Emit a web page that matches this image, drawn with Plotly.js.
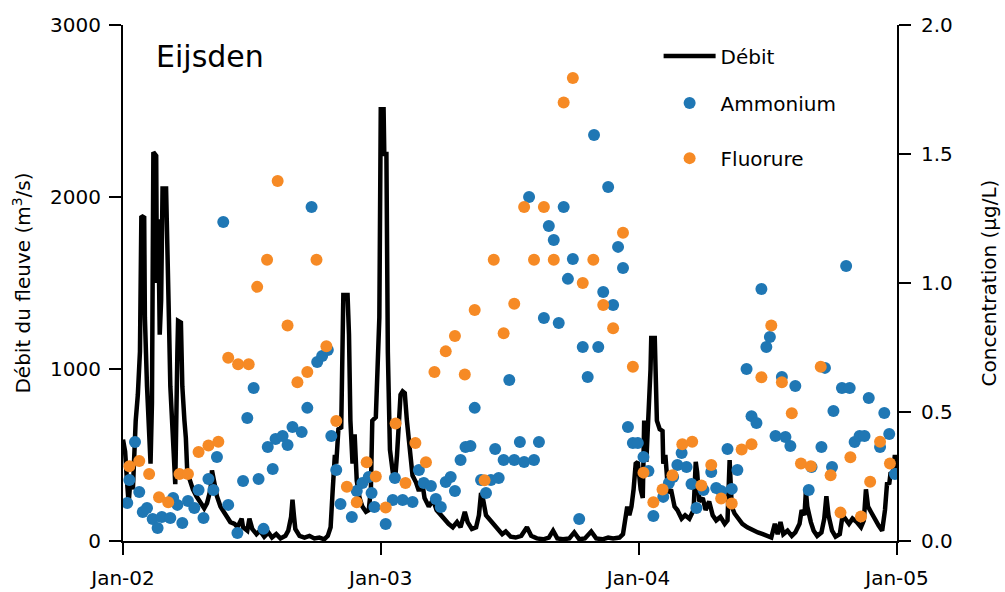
<!DOCTYPE html>
<html>
<head>
<meta charset="utf-8">
<script src="https://cdn.plot.ly/plotly-3.0.1.min.js"></script>
<style>html,body{margin:0;padding:0;background:#fff;}#chart{width:1005px;height:592px;}</style>
</head>
<body>
<div id="chart"></div>
<script>
// ---- Data ----
const xTickDates = ['2002-01-01','2003-01-01','2004-01-01','2005-01-01'];
const xTickLabels = ['Jan-02','Jan-03','Jan-04','Jan-05'];

const dischargeDates = [
'2002-01-01','2002-01-04','2002-01-07','2002-01-09','2002-01-12','2002-01-15','2002-01-19','2002-01-22','2002-01-25','2002-01-27',
'2002-01-31','2002-02-01','2002-02-04','2002-02-07','2002-02-09','2002-02-11','2002-02-13','2002-02-17','2002-02-18','2002-02-20',
'2002-02-22','2002-02-24','2002-02-26','2002-03-03','2002-03-05','2002-03-07','2002-03-09','2002-03-12','2002-03-14','2002-03-16',
'2002-03-19','2002-03-20','2002-03-24','2002-03-26','2002-03-29','2002-03-31','2002-04-02','2002-04-06','2002-04-10','2002-04-15',
'2002-04-20','2002-04-26','2002-04-30','2002-05-05','2002-05-07','2002-05-10','2002-05-14','2002-05-19','2002-05-24','2002-05-29',
'2002-06-02','2002-06-08','2002-06-12','2002-06-18','2002-06-20','2002-06-26','2002-06-29','2002-07-03','2002-07-09','2002-07-14',
'2002-07-20','2002-07-26','2002-07-31','2002-08-06','2002-08-12','2002-08-19','2002-08-23','2002-08-27','2002-08-29','2002-08-31',
'2002-09-02','2002-09-08','2002-09-15','2002-09-22','2002-09-29','2002-10-06','2002-10-13','2002-10-18','2002-10-22','2002-10-25',
'2002-10-28','2002-10-30','2002-11-02','2002-11-06','2002-11-09','2002-11-15','2002-11-17','2002-11-19','2002-11-22','2002-11-25',
'2002-11-28','2002-12-02','2002-12-06','2002-12-11','2002-12-15','2002-12-18','2002-12-20','2002-12-25','2002-12-28','2002-12-30',
'2003-01-01','2003-01-05','2003-01-06','2003-01-09','2003-01-11','2003-01-14','2003-01-18','2003-01-21','2003-01-24','2003-01-26',
'2003-01-29','2003-02-01','2003-02-04','2003-02-07','2003-02-10','2003-02-12','2003-02-15','2003-02-20','2003-02-24','2003-02-28',
'2003-03-04','2003-03-10','2003-03-16','2003-03-21','2003-03-27','2003-04-02','2003-04-07','2003-04-13','2003-04-19','2003-04-24',
'2003-04-30','2003-05-04','2003-05-10','2003-05-16','2003-05-20','2003-05-23','2003-05-26','2003-05-30','2003-06-05','2003-06-10',
'2003-06-16','2003-06-22','2003-06-27','2003-07-04','2003-07-11','2003-07-19','2003-07-27','2003-08-02','2003-08-10','2003-08-19',
'2003-08-27','2003-09-02','2003-09-08','2003-09-16','2003-09-25','2003-10-02','2003-10-09','2003-10-17','2003-10-26','2003-11-02',
'2003-11-11','2003-11-19','2003-11-26','2003-12-05','2003-12-10','2003-12-13','2003-12-16','2003-12-19','2003-12-22','2003-12-25',
'2003-12-28','2003-12-31','2004-01-04','2004-01-07','2004-01-09','2004-01-12','2004-01-15','2004-01-18','2004-01-19','2004-01-24',
'2004-01-27','2004-01-31','2004-02-04','2004-02-05','2004-02-08','2004-02-12','2004-02-16','2004-02-21','2004-02-25','2004-03-02',
'2004-03-07','2004-03-13','2004-03-19','2004-03-22','2004-03-24','2004-03-27','2004-04-01','2004-04-05','2004-04-10','2004-04-15',
'2004-04-20','2004-04-26','2004-05-02','2004-05-06','2004-05-09','2004-05-12','2004-05-16','2004-05-22','2004-05-27','2004-06-03',
'2004-06-11','2004-06-18','2004-06-25','2004-07-02','2004-07-07','2004-07-12','2004-07-16','2004-07-20','2004-07-24','2004-07-30',
'2004-08-05','2004-08-10','2004-08-16','2004-08-19','2004-08-23','2004-08-25','2004-08-27','2004-09-01','2004-09-05','2004-09-10',
'2004-09-16','2004-09-20','2004-09-23','2004-09-26','2004-10-01','2004-10-06','2004-10-12','2004-10-16','2004-10-20','2004-10-25',
'2004-10-30','2004-11-05','2004-11-11','2004-11-15','2004-11-18','2004-11-21','2004-11-25','2004-12-01','2004-12-06','2004-12-11',
'2004-12-15','2004-12-18','2004-12-21','2004-12-23','2004-12-26','2004-12-29','2004-12-31'
];
const dischargeValues = [
590,520,330,220,380,300,700,850,1100,1890,
1880,1300,900,600,450,800,2260,2240,1500,1870,
1200,1400,2050,2050,1750,1300,900,600,400,330,
1100,1280,1270,900,700,600,400,340,300,260,
230,190,220,300,410,330,260,200,170,140,
110,100,80,130,80,60,130,70,40,60,
25,50,20,40,15,30,60,140,240,150,
70,30,20,30,15,20,10,30,80,300,
500,450,650,660,1430,1430,1200,700,450,620,
350,250,200,170,180,300,700,720,1090,1300,
2510,2510,2250,2250,1100,530,400,340,500,700,
850,870,860,700,560,450,380,340,290,360,
250,200,240,180,150,120,100,80,110,80,
170,110,70,80,150,280,240,150,120,90,
60,40,55,25,20,30,80,30,15,10,
20,60,15,10,15,50,10,15,55,15,
10,20,15,20,40,130,200,150,200,300,
450,460,300,250,700,460,700,1000,1180,1180,
700,650,640,450,500,280,300,200,180,130,
150,130,180,460,400,230,250,180,230,150,
120,140,100,120,470,200,160,130,100,80,
60,50,40,25,20,100,40,110,40,60,
30,50,100,180,150,290,200,110,60,30,
50,130,260,150,60,25,40,150,130,100,
130,110,80,120,300,200,170,120,90,60,
180,340,330,400,380,500,420
];

const ammoniumDates = [
'2002-01-07','2002-01-10','2002-01-18','2002-01-24','2002-01-29','2002-02-04','2002-02-12','2002-02-19','2002-02-25','2002-03-09',
'2002-03-13','2002-03-19','2002-03-26','2002-04-03','2002-04-12','2002-04-18','2002-04-25','2002-05-02','2002-05-09','2002-05-14',
'2002-05-23','2002-05-30','2002-06-12','2002-06-20','2002-06-26','2002-07-05','2002-07-12','2002-07-19','2002-07-25','2002-08-01',
'2002-08-05','2002-08-15','2002-08-22','2002-08-29','2002-09-11','2002-09-19','2002-09-25','2002-10-03','2002-10-10','2002-10-18',
'2002-10-23','2002-10-30','2002-11-05','2002-11-21','2002-11-28','2002-12-06','2002-12-15','2002-12-19','2002-12-23',
'2003-01-08','2003-01-18','2003-01-21','2003-02-01','2003-02-15','2003-02-24','2003-03-03','2003-03-13','2003-03-20','2003-03-27',
'2003-04-03','2003-04-10','2003-04-16','2003-04-24','2003-05-01','2003-05-08','2003-05-14','2003-05-23','2003-05-30','2003-06-06',
'2003-06-12','2003-06-17','2003-06-24','2003-07-02','2003-07-09','2003-07-17','2003-07-23','2003-07-30','2003-08-06','2003-08-13',
'2003-08-20','2003-08-27','2003-09-03','2003-09-10','2003-09-17','2003-09-23','2003-09-30','2003-10-09','2003-10-14','2003-10-21',
'2003-10-30','2003-11-05','2003-11-12','2003-11-19','2003-11-26','2003-12-03','2003-12-10','2003-12-17','2003-12-24','2003-12-31',
'2004-01-08','2004-01-15','2004-01-22','2004-02-05','2004-02-13','2004-02-19','2004-02-25','2004-03-02','2004-03-09','2004-03-16',
'2004-03-23','2004-04-02','2004-04-13','2004-04-20','2004-04-27','2004-05-06','2004-05-12','2004-05-20','2004-06-02','2004-06-09',
'2004-06-16','2004-06-23','2004-06-30','2004-07-05','2004-07-13','2004-07-22','2004-07-27','2004-08-03','2004-08-10','2004-08-29',
'2004-09-02','2004-09-16','2004-09-21','2004-10-01','2004-10-03','2004-10-15','2004-10-21','2004-10-26','2004-11-02','2004-11-09',
'2004-11-16','2004-11-22','2004-12-08','2004-12-14','2004-12-21','2004-12-29'
];
const ammoniumValues = [
0.147,0.236,0.384,0.190,0.112,0.128,0.085,0.050,0.093,0.089,
0.167,0.140,0.070,0.155,0.128,0.198,0.089,0.240,0.198,0.326,
1.236,0.140,0.031,0.233,0.477,0.593,0.240,0.047,0.364,0.279,
0.395,0.407,0.372,0.442,0.422,0.516,1.295,0.694,0.717,0.740,
0.407,0.275,0.143,0.093,0.194,0.225,0.248,0.186,0.132,
0.066,0.159,0.244,0.159,0.151,0.275,0.225,0.213,0.163,0.132,
0.229,0.248,0.194,0.314,0.364,0.368,0.516,0.236,0.186,0.236,
0.357,0.244,0.314,0.624,0.314,0.384,0.306,1.333,0.314,0.384,
0.864,1.221,1.167,0.845,1.295,1.016,1.093,0.085,0.752,0.636,
1.574,0.752,0.965,1.372,0.915,1.140,1.058,0.442,0.380,0.380,
0.326,0.271,0.097,0.171,0.225,0.248,0.295,0.341,0.287,0.221,
0.128,0.198,0.267,0.205,0.194,0.357,0.202,0.275,0.667,0.484,
0.457,0.977,0.752,0.791,0.407,0.636,0.403,0.368,0.601,0.198,
0.287,0.364,0.671,0.287,0.504,0.593,1.066,0.593,0.384,0.407,
0.407,0.554,0.364,0.496,0.415,0.260
];

const fluorureDates = [
'2002-01-10','2002-01-24','2002-02-07','2002-02-21','2002-03-06','2002-03-22','2002-04-03','2002-04-18','2002-05-02','2002-05-16',
'2002-05-30','2002-06-13','2002-06-28','2002-07-10','2002-07-24','2002-08-08','2002-08-22','2002-09-05','2002-09-19','2002-10-02',
'2002-10-16','2002-10-30','2002-11-14','2002-11-28','2002-12-12','2002-12-25',
'2003-01-08','2003-01-22','2003-02-05','2003-02-19','2003-03-06','2003-03-18','2003-04-03','2003-04-16','2003-04-30','2003-05-14',
'2003-05-28','2003-06-10','2003-06-24','2003-07-09','2003-07-23','2003-08-06','2003-08-20','2003-09-03','2003-09-17','2003-09-30',
'2003-10-14','2003-10-29','2003-11-12','2003-11-26','2003-12-10','2003-12-24',
'2004-01-08','2004-01-22','2004-02-04','2004-02-18','2004-03-03','2004-03-17','2004-03-30','2004-04-13','2004-04-27','2004-05-12',
'2004-05-26','2004-06-09','2004-06-23','2004-07-07','2004-07-22','2004-08-05','2004-08-18','2004-09-01','2004-09-15','2004-09-29',
'2004-10-13','2004-10-27','2004-11-11','2004-11-24','2004-12-08','2004-12-22'
];
const fluorureValues = [
0.29,0.31,0.26,0.17,0.15,0.26,0.26,0.345,0.37,0.385,
0.71,0.685,0.685,0.985,1.09,1.395,0.835,0.615,0.655,1.09,
0.755,0.465,0.21,0.15,0.305,0.25,
0.13,0.455,0.225,0.38,0.305,0.655,0.735,0.795,0.645,0.895,
0.235,1.09,0.805,0.92,1.295,1.09,1.295,1.09,1.70,1.795,
1.0,1.09,0.915,0.825,1.195,0.675,
0.265,0.15,0.20,0.255,0.375,0.385,0.215,0.295,0.165,0.145,
0.355,0.375,0.635,0.835,0.615,0.495,0.30,0.29,0.675,0.255,
0.11,0.325,0.095,0.23,0.385,0.30
];

// ---- Styling ----
const FONT = 'DejaVu Sans, Liberation Sans, sans-serif';
const BLUE = '#1f77b4';
const ORANGE = '#f68a25';

const traces = [
  {x: dischargeDates, y: dischargeValues, type: 'scatter', mode: 'lines', name: 'Débit',
   line: {color: '#000000', width: 4.5}, yaxis: 'y', legend: 'legend'},
  {x: ammoniumDates, y: ammoniumValues, type: 'scatter', mode: 'markers', name: 'Ammonium',
   marker: {color: BLUE, size: 12, symbol: 'circle'}, yaxis: 'y2', legend: 'legend2'},
  {x: fluorureDates, y: fluorureValues, type: 'scatter', mode: 'markers', name: 'Fluorure',
   marker: {color: ORANGE, size: 12, symbol: 'circle'}, yaxis: 'y2', legend: 'legend3'}
];

const axisCommon = {
  showline: true, linecolor: '#000', linewidth: 2,
  ticks: 'outside', ticklen: 12, tickwidth: 2, tickcolor: '#000',
  showgrid: false, zeroline: false,
  tickfont: {family: FONT, size: 20, color: '#000'}
};

const legendCommon = {
  x: 0.692, xanchor: 'left', yanchor: 'middle', itemwidth: 52,
  bgcolor: 'rgba(0,0,0,0)', borderwidth: 0,
  font: {family: FONT, size: 20, color: '#000'}
};

const layout = {
  width: 1005, height: 592,
  margin: {l: 123, r: 108, t: 25, b: 51, pad: 0},
  paper_bgcolor: '#ffffff', plot_bgcolor: '#ffffff',
  font: {family: FONT, size: 20, color: '#000'},
  showlegend: true,
  xaxis: Object.assign({}, axisCommon, {
    type: 'date', range: ['2002-01-01', '2005-01-01'],
    tickmode: 'array', tickvals: xTickDates, ticktext: xTickLabels,
    ticklabelstandoff: 6
  }),
  yaxis: Object.assign({}, axisCommon, {
    range: [0, 3000], tickmode: 'linear', tick0: 0, dtick: 1000,
    ticklabelstandoff: 4,
    title: {text: 'Débit du fleuve (m<sup>3</sup>/s)', font: {family: FONT, size: 20, color: '#000'}, standoff: 14}
  }),
  yaxis2: Object.assign({}, axisCommon, {
    overlaying: 'y', side: 'right', anchor: 'x',
    range: [0, 2], tickmode: 'linear', tick0: 0, dtick: 0.5, tickformat: '.1f',
    ticklabelstandoff: 6,
    title: {text: 'Concentration (µg/L)', font: {family: FONT, size: 20, color: '#000'}, standoff: 30}
  }),
  legend: Object.assign({}, legendCommon, {y: 0.94}),
  legend2: Object.assign({}, legendCommon, {y: 0.849}),
  legend3: Object.assign({}, legendCommon, {y: 0.742}),
  annotations: [{
    text: 'Eijsden', xref: 'paper', yref: 'paper', x: 0.04, y: 0.938,
    xanchor: 'left', yanchor: 'middle', showarrow: false,
    font: {family: FONT, size: 30, color: '#000'}
  }]
};

Plotly.newPlot('chart', traces, layout, {displayModeBar: false, staticPlot: true});
</script>
</body>
</html>
